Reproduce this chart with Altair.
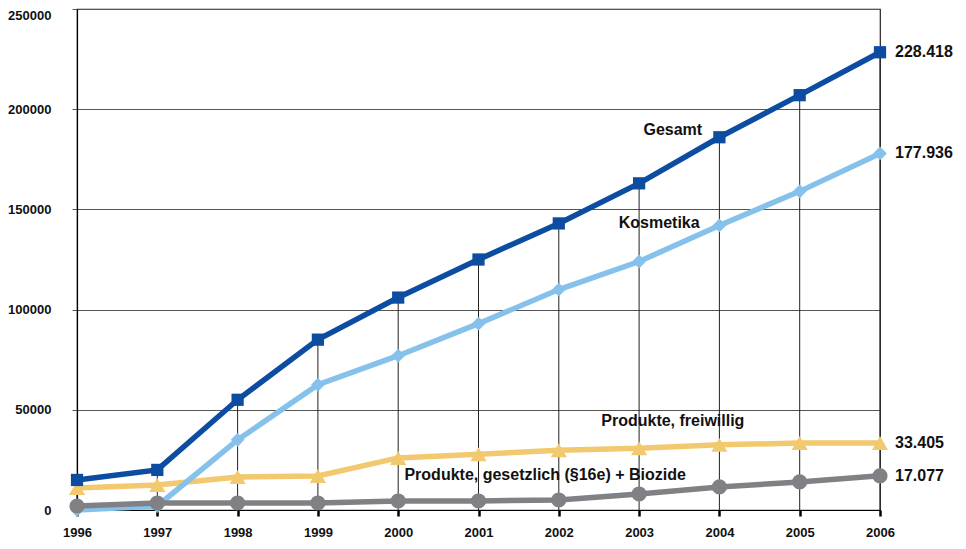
import altair as alt
import pandas as pd

years = list(range(1996, 2007))
gesamt = [15000, 20000, 55000, 85000, 106000, 125000, 143000, 163000, 186000, 207000, 228418]
kosmetika = [0, 2000, 35000, 62500, 77000, 93000, 110000, 124000, 142000, 159000, 177936]
freiwillig = [11000, 12500, 16500, 17000, 26000, 27800, 29800, 30800, 32500, 33400, 33405]
gesetzlich = [2000, 3500, 3500, 3500, 4500, 4500, 5000, 8000, 11500, 14000, 17077]

series_names = ["Gesamt", "Kosmetika", "Produkte, freiwillig", "Produkte, gesetzlich (§16e) + Biozide"]
series_values = [gesamt, kosmetika, freiwillig, gesetzlich]
series_colors = ["#0D4DA1", "#85C1EA", "#F2C96E", "#808184"]
series_shapes = ["square", "diamond", "triangle-up", "circle"]
series_sizes = [150, 190, 260, 230]

# annotation anchors (year, value) for series names
label_x = [2003.42, 2003.25, 2003.42, 2001.83]
label_y = [189500, 143200, 44600, 17700]

FONT = "Liberation Sans"

x_scale = alt.Scale(domain=[1996, 2006], nice=False, zero=False)
y_scale = alt.Scale(domain=[0, 250000], nice=False)

x_axis = alt.Axis(values=years, format="d", title=None, labelFont=FONT, labelFontWeight="bold",
                  labelFontSize=13, labelColor="#111", tickColor="#000", tickWidth=2.5, tickSize=6,
                  labelPadding=10, labelFlush=False, domainColor="#000", domainWidth=1.2, grid=False)
y_axis = alt.Axis(values=list(range(0, 250001, 50000)), format="d", title=None, labelFont=FONT,
                  labelFontWeight="bold", labelFontSize=13, labelColor="#111", tickColor="#555",
                  tickSize=5, labelPadding=21, domainColor="#000", domainWidth=1.2,
                  labelFlush=False,
                  labelBaseline={"condition": {"test": "datum.value >= 250000", "value": "top"},
                                 "value": "middle"},
                  grid=True, gridColor="#555", gridWidth=1)

base_df = pd.DataFrame({"year": years, "gesamt": gesamt})

axes_layer = alt.Chart(base_df).mark_rule(opacity=0).encode(
    x=alt.X("year:Q", scale=x_scale, axis=x_axis),
    y=alt.Y("gesamt:Q", scale=y_scale, axis=y_axis),
)

drop = alt.Chart(base_df).mark_rule(color="#222", strokeWidth=1).encode(
    x=alt.X("year:Q", scale=x_scale),
    y=alt.Y("gesamt:Q", scale=y_scale),
    y2=alt.datum(0),
)

layers = [axes_layer, drop]
order = [2, 1, 3, 0]
for i in order:
    df = pd.DataFrame({"year": years, "value": series_values[i]})
    line = alt.Chart(df).mark_line(color=series_colors[i], strokeWidth=5.5).encode(
        x=alt.X("year:Q", scale=x_scale),
        y=alt.Y("value:Q", scale=y_scale),
    )
    pts = alt.Chart(df).mark_point(filled=True, opacity=1, color=series_colors[i],
                                   shape=series_shapes[i], size=series_sizes[i]).encode(
        x=alt.X("year:Q", scale=x_scale),
        y=alt.Y("value:Q", scale=y_scale),
    )
    layers += [line, pts]

lab_df = pd.DataFrame({"x": label_x, "y": label_y, "t": series_names})
labels = alt.Chart(lab_df).mark_text(font=FONT, fontWeight="bold", fontSize=16, color="#111",
                                     align="center", baseline="middle").encode(
    x=alt.X("x:Q", scale=x_scale),
    y=alt.Y("y:Q", scale=y_scale),
    text="t:N",
)

end_df = pd.DataFrame({
    "year": [years[-1]] * 4,
    "value": [s[-1] for s in series_values],
    "t": [f"{s[-1]:,}".replace(",", ".") for s in series_values],
})
end_labels = alt.Chart(end_df).mark_text(font=FONT, fontWeight="bold", fontSize=16, color="#111",
                                         align="left", baseline="middle", dx=15).encode(
    x=alt.X("year:Q", scale=x_scale),
    y=alt.Y("value:Q", scale=y_scale),
    text="t:N",
)

layers += [labels, end_labels]

chart = alt.layer(*layers).properties(
    width=803, height=501,
    autosize=alt.AutoSizeParams(type="none"),
    padding={"left": 69, "top": 1, "right": 78, "bottom": 31},
    background="white",
).configure_view(stroke="#222", strokeWidth=1.2)

chart.save("out.html", embed_options={"renderer": "svg", "actions": False})
